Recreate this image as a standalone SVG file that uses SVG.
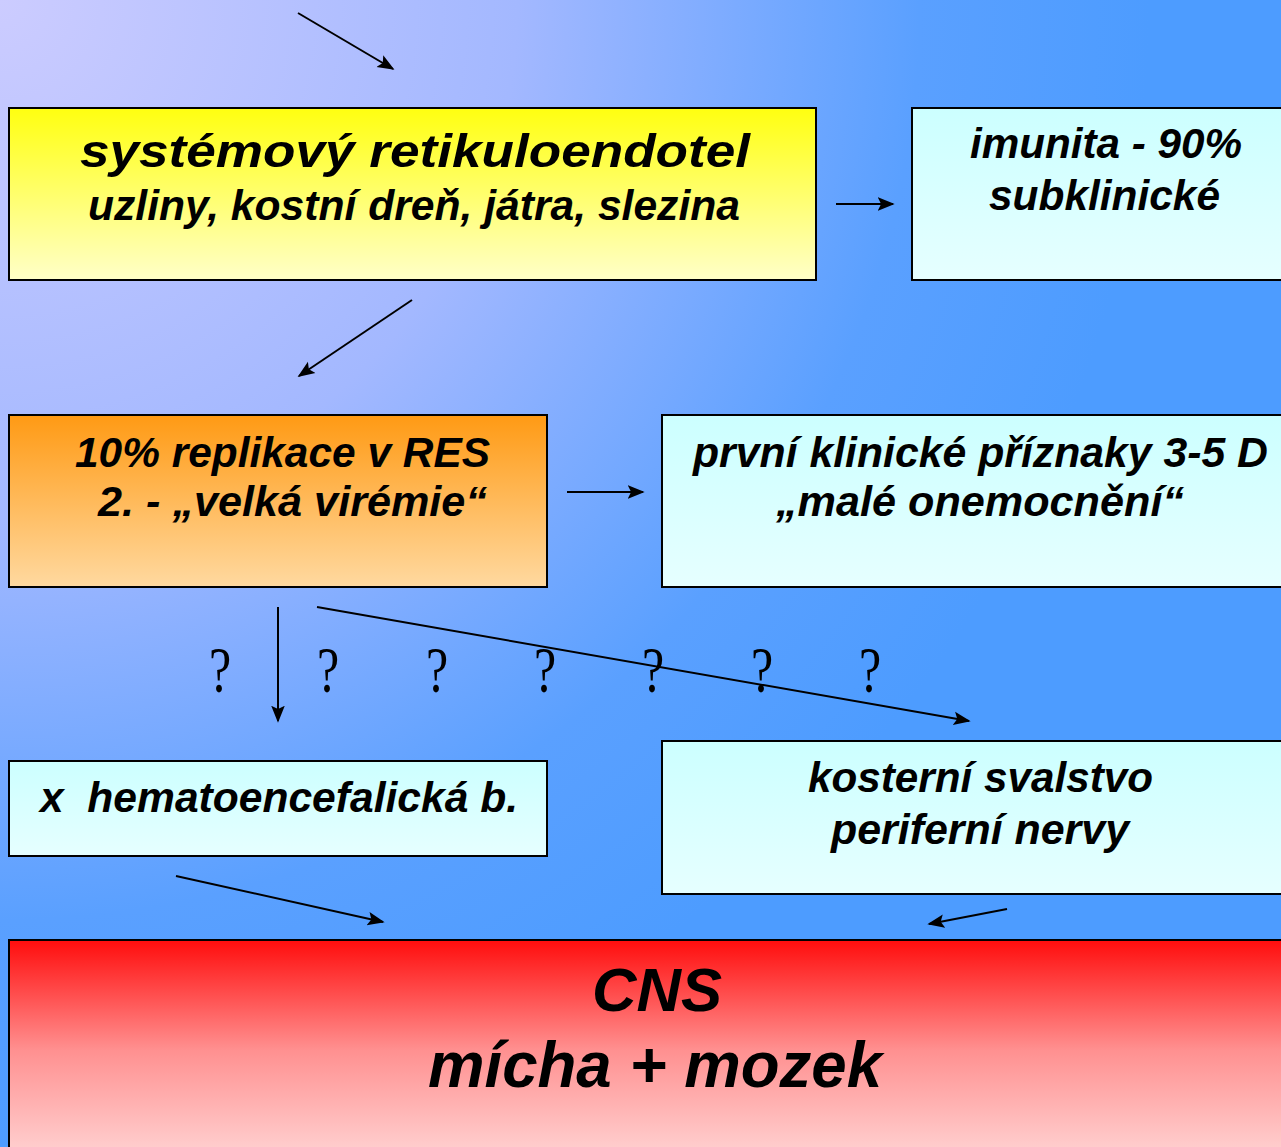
<svg xmlns="http://www.w3.org/2000/svg" width="1281" height="1147" viewBox="0 0 1281 1147">
<defs>
<radialGradient id="bg" gradientUnits="userSpaceOnUse" cx="0" cy="0" r="1150">
<stop offset="0" stop-color="#ccccff"/>
<stop offset="0.45" stop-color="#a3b8ff"/>
<stop offset="0.8" stop-color="#5aa0ff"/>
<stop offset="1" stop-color="#4d9cff"/>
</radialGradient>
<linearGradient id="yel" x1="0" y1="0" x2="0" y2="1">
<stop offset="0" stop-color="#ffff10"/>
<stop offset="1" stop-color="#ffffc8"/>
</linearGradient>
<linearGradient id="org" x1="0" y1="0" x2="0" y2="1">
<stop offset="0" stop-color="#ff9a14"/>
<stop offset="1" stop-color="#ffd9a0"/>
</linearGradient>
<linearGradient id="cyan" x1="0" y1="0" x2="0" y2="1">
<stop offset="0" stop-color="#ccffff"/>
<stop offset="1" stop-color="#e6ffff"/>
</linearGradient>
<linearGradient id="red" x1="0" y1="0" x2="0" y2="1">
<stop offset="0" stop-color="#ff0d0d"/>
<stop offset="0.5" stop-color="#ff9090"/>
<stop offset="1" stop-color="#ffd4d4"/>
</linearGradient>
<marker id="ahl" viewBox="0 0 10 10" refX="9" refY="5" markerWidth="17" markerHeight="17" markerUnits="userSpaceOnUse" orient="auto">
<path d="M0,1 L10,5 L0,9 L2,5 z" fill="#000"/>
</marker>
</defs>
<style>
.box{stroke:#000;stroke-width:2}
.t{font-family:"Liberation Sans",Arial,sans-serif;font-weight:bold;font-style:italic;fill:#000;font-size:42px}
.big{font-size:46px}
.cns{font-size:62px}
.mm{font-size:64px}
.q{font-family:"Liberation Serif","Times New Roman",serif;font-size:50px;fill:#000;text-anchor:middle}
.c{stroke:#000;stroke-width:2;fill:none;marker-end:url(#ahl)}
</style>
<rect width="1281" height="1147" fill="url(#bg)"/>

<g id="n-res">
<rect class="box" x="9" y="108" width="807" height="172" fill="url(#yel)"/>
<text class="t big" x="80" y="167" textLength="670" lengthAdjust="spacingAndGlyphs">systémový retikuloendotel</text>
<text class="t" x="88" y="220" textLength="652" lengthAdjust="spacingAndGlyphs">uzliny, kostní dreň, játra, slezina</text>
</g>

<g id="n-imunita">
<rect class="box" x="912" y="108" width="380" height="172" fill="url(#cyan)"/>
<text class="t" x="970" y="158" textLength="272" lengthAdjust="spacingAndGlyphs">imunita - 90%</text>
<text class="t" x="989" y="210" textLength="231" lengthAdjust="spacingAndGlyphs">subklinické</text>
</g>

<g id="n-replikace">
<rect class="box" x="9" y="415" width="538" height="172" fill="url(#org)"/>
<text class="t" x="75" y="467" textLength="415" lengthAdjust="spacingAndGlyphs">10% replikace v RES</text>
<text class="t" x="98" y="516" textLength="389" lengthAdjust="spacingAndGlyphs">2. - „velká virémie“</text>
</g>

<g id="n-prvni">
<rect class="box" x="662" y="415" width="630" height="172" fill="url(#cyan)"/>
<text class="t" x="693" y="467" textLength="575" lengthAdjust="spacingAndGlyphs">první klinické příznaky 3-5 D</text>
<text class="t" x="776" y="516" textLength="408" lengthAdjust="spacingAndGlyphs">„malé onemocnění“</text>
</g>

<g id="n-hemato">
<rect class="box" x="9" y="761" width="538" height="95" fill="url(#cyan)"/>
<text class="t" x="40" y="812" xml:space="preserve" textLength="478" lengthAdjust="spacingAndGlyphs">x  hematoencefalická b.</text>
</g>

<g id="n-kosterni">
<rect class="box" x="662" y="741" width="630" height="153" fill="url(#cyan)"/>
<text class="t" x="808" y="792" textLength="345" lengthAdjust="spacingAndGlyphs">kosterní svalstvo</text>
<text class="t" x="831" y="844" textLength="298" lengthAdjust="spacingAndGlyphs">periferní nervy</text>
</g>

<g id="n-cns">
<rect class="box" x="9" y="940" width="1282" height="220" fill="url(#red)"/>
<text class="t cns" x="592" y="1011" textLength="130" lengthAdjust="spacingAndGlyphs">CNS</text>
<text class="t mm" x="428" y="1087" textLength="454" lengthAdjust="spacingAndGlyphs">mícha + mozek</text>
</g>

<g id="questions">
<text class="q" transform="translate(220,692) scale(1,1.3)">?</text>
<text class="q" transform="translate(328,692) scale(1,1.3)">?</text>
<text class="q" transform="translate(437,692) scale(1,1.3)">?</text>
<text class="q" transform="translate(545,692) scale(1,1.3)">?</text>
<text class="q" transform="translate(653,692) scale(1,1.3)">?</text>
<text class="q" transform="translate(762,692) scale(1,1.3)">?</text>
<text class="q" transform="translate(870,692) scale(1,1.3)">?</text>
</g>

<g id="connectors">
<line class="c" x1="298" y1="13" x2="393" y2="69"/>
<line class="c" x1="836" y1="204" x2="893" y2="204"/>
<line class="c" x1="412" y1="300" x2="299" y2="376"/>
<line class="c" x1="567" y1="492" x2="643" y2="492"/>
<line class="c" x1="278" y1="607" x2="278" y2="721"/>
<line class="c" x1="317" y1="607" x2="969" y2="721"/>
<line class="c" x1="176" y1="876" x2="383" y2="922"/>
<line class="c" x1="1007" y1="909" x2="929" y2="924"/>
</g>
</svg>
